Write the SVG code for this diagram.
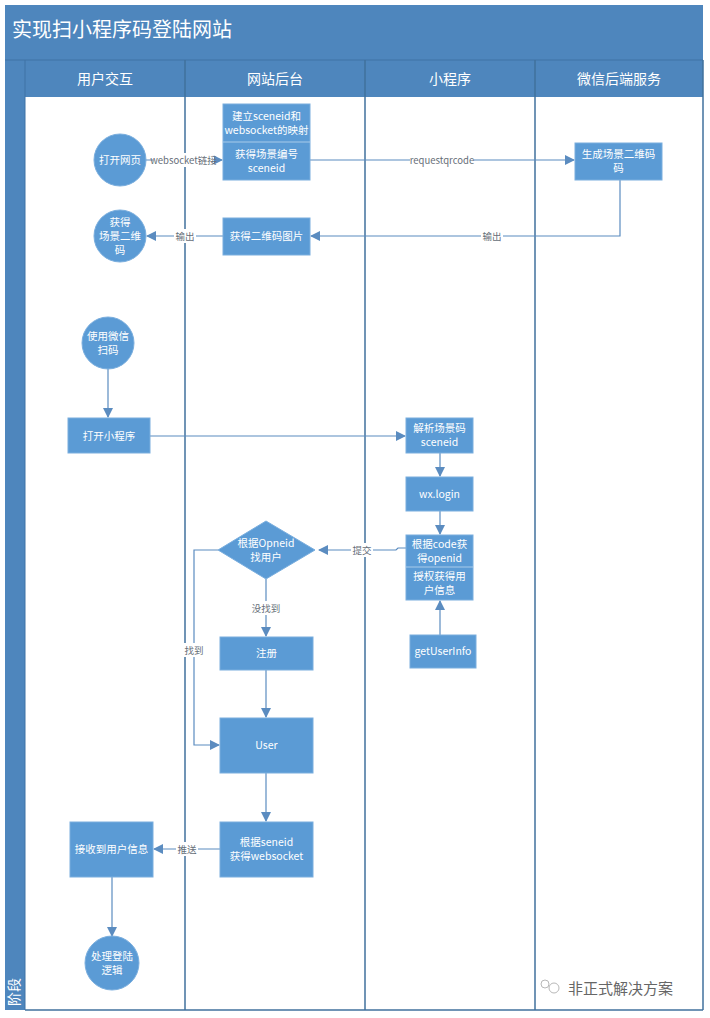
<svg xmlns="http://www.w3.org/2000/svg" width="710" height="1018" viewBox="0 0 710 1018">
<defs>
<marker id="arr" markerWidth="10" markerHeight="10" refX="9" refY="5" orient="auto" markerUnits="userSpaceOnUse">
<path d="M0,0 L10,5 L0,10 Z" fill="#5b8cc0"/>
</marker>
<style>
text{font-family:"Noto Sans CJK SC","Liberation Sans",sans-serif;}
.n{fill:#5b9bd5;stroke:#7aaede;stroke-width:1;}
.t{fill:#ffffff;font-size:10.5px;text-anchor:middle;}
.c{fill:none;stroke:#5b8cc0;stroke-width:1.2;}
.lb{fill:#666e78;font-size:9.5px;text-anchor:middle;}
.lbg{fill:#ffffff;}
.hd{fill:#ffffff;font-size:14px;text-anchor:middle;}
.ln{stroke:#41719c;stroke-width:1.5;}
</style>
</defs>
<rect width="710" height="1018" fill="#ffffff"/>
<g id="frame">
<rect x="5" y="5" width="698" height="1005" fill="#4e86bd"/>
<rect x="25" y="97" width="678" height="913" fill="#ffffff"/>
<line x1="5" y1="60" x2="703" y2="60" stroke="#3f72a5" stroke-width="1"/>
<line x1="25" y1="60" x2="25" y2="1010" stroke="#3f72a5" stroke-width="1"/>
<line class="ln" x1="185" y1="60" x2="185" y2="1010"/>
<line class="ln" x1="365" y1="60" x2="365" y2="1010"/>
<line class="ln" x1="535" y1="60" x2="535" y2="1010"/>
<line class="ln" x1="703" y1="60" x2="703" y2="1010"/>
<line class="ln" x1="25" y1="1010" x2="703" y2="1010"/>
<text x="12" y="37" fill="#ffffff" font-size="20">实现扫小程序码登陆网站</text>
<text class="hd" x="105" y="84">用户交互</text>
<text class="hd" x="275" y="84">网站后台</text>
<text class="hd" x="450" y="84">小程序</text>
<text class="hd" x="619" y="84">微信后端服务</text>
<text x="19" y="1006" fill="#ffffff" font-size="14" transform="rotate(-90 19 1006)">阶段</text>
</g>
<g id="connectors">
<line class="c" x1="146" y1="160" x2="222" y2="160" marker-end="url(#arr)"/>
<line class="c" x1="310" y1="160" x2="574" y2="160" marker-end="url(#arr)"/>
<polyline class="c" points="620,180 620,236 311,236" marker-end="url(#arr)"/>
<line class="c" x1="223" y1="236" x2="147" y2="236" marker-end="url(#arr)"/>
<line class="c" x1="108" y1="369" x2="108" y2="417" marker-end="url(#arr)"/>
<line class="c" x1="150" y1="436" x2="405" y2="436" marker-end="url(#arr)"/>
<line class="c" x1="440" y1="453" x2="440" y2="476" marker-end="url(#arr)"/>
<line class="c" x1="440" y1="511" x2="440" y2="534" marker-end="url(#arr)"/>
<polyline class="c" points="406,548 398,548 396,550 319,550" marker-end="url(#arr)"/>
<line class="c" x1="266" y1="579" x2="266" y2="636" marker-end="url(#arr)"/>
<polyline class="c" points="218,550 194,550 194,745 219,745" marker-end="url(#arr)"/>
<line class="c" x1="266" y1="670" x2="266" y2="717" marker-end="url(#arr)"/>
<line class="c" x1="266" y1="773" x2="266" y2="821" marker-end="url(#arr)"/>
<line class="c" x1="220" y1="849" x2="154" y2="849" marker-end="url(#arr)"/>
<line class="c" x1="112" y1="877" x2="112" y2="936" marker-end="url(#arr)"/>
<line class="c" x1="440" y1="635" x2="440" y2="601" marker-end="url(#arr)"/>
<rect class="lbg" x="153" y="153" width="61" height="14"/>
<text class="lb" x="183.5" y="163.5">websocket链接</text>
<rect class="lbg" x="410" y="153" width="64" height="14"/>
<text class="lb" x="442" y="163.5">requestqrcode</text>
<rect class="lbg" x="481" y="229" width="22" height="14"/>
<text class="lb" x="492" y="239.5">输出</text>
<rect class="lbg" x="174" y="229" width="22" height="14"/>
<text class="lb" x="185" y="239.5">输出</text>
<rect class="lbg" x="351" y="543" width="22" height="14"/>
<text class="lb" x="362" y="553.5">提交</text>
<rect class="lbg" x="250" y="601" width="32" height="14"/>
<text class="lb" x="266" y="611.5">没找到</text>
<rect class="lbg" x="183" y="643" width="22" height="14"/>
<text class="lb" x="194" y="653.5">找到</text>
<rect class="lbg" x="176" y="842" width="22" height="14"/>
<text class="lb" x="187" y="852.5">推送</text>
</g>
<g id="n-open-web">
<circle class="n" cx="120" cy="160" r="26"/>
<text class="t" x="120" y="164">打开网页</text>
</g>
<g id="n-map">
<rect class="n" x="223" y="104" width="87" height="76"/>
<line x1="223" y1="142" x2="310" y2="142" stroke="#a9cbea" stroke-width="1"/>
<text class="t" x="266.5" y="120" font-size="10px">建立sceneid和</text>
<text class="t" x="266.5" y="134" font-size="10px">websocket的映射</text>
<text class="t" x="266.5" y="158">获得场景编号</text>
<text class="t" x="266.5" y="172">sceneid</text>
</g>
<g id="n-gen-qr">
<rect class="n" x="575" y="143" width="87" height="37"/>
<text class="t" x="618.5" y="158">生成场景二维码</text>
<text class="t" x="618.5" y="172">码</text>
</g>
<g id="n-get-img">
<rect class="n" x="223" y="218" width="87" height="37"/>
<text class="t" x="266.5" y="240">获得二维码图片</text>
</g>
<g id="n-get-qr">
<circle class="n" cx="120" cy="236" r="26"/>
<text class="t" x="120" y="226">获得</text>
<text class="t" x="120" y="240">场景二维</text>
<text class="t" x="120" y="254">码</text>
</g>
<g id="n-scan">
<circle class="n" cx="108" cy="343" r="26"/>
<text class="t" x="108" y="340">使用微信</text>
<text class="t" x="108" y="354">扫码</text>
</g>
<g id="n-open-mini">
<rect class="n" x="68" y="418" width="82" height="35"/>
<text class="t" x="109" y="440">打开小程序</text>
</g>
<g id="n-parse">
<rect class="n" x="406" y="418" width="67" height="35"/>
<text class="t" x="439.5" y="432">解析场景码</text>
<text class="t" x="439.5" y="446">sceneid</text>
</g>
<g id="n-wxlogin">
<rect class="n" x="406" y="477" width="67" height="34"/>
<text class="t" x="439.5" y="498">wx.login</text>
</g>
<g id="n-openid">
<rect class="n" x="406" y="535" width="67" height="65"/>
<line x1="406" y1="567" x2="473" y2="567" stroke="#a9cbea" stroke-width="1"/>
<text class="t" x="439.5" y="548" font-size="10px">根据code获</text>
<text class="t" x="439.5" y="562" font-size="10px">得openid</text>
<text class="t" x="439.5" y="580">授权获得用</text>
<text class="t" x="439.5" y="594">户信息</text>
</g>
<g id="n-getuserinfo">
<rect class="n" x="410" y="635" width="66" height="33"/>
<text class="t" x="443" y="655">getUserInfo</text>
</g>
<g id="n-find">
<polygon class="n" points="266,521 315,550 266,579 218,550"/>
<text class="t" x="266" y="547">根据Opneid</text>
<text class="t" x="266" y="561">找用户</text>
</g>
<g id="n-register">
<rect class="n" x="220" y="637" width="93" height="33"/>
<text class="t" x="266.5" y="657">注册</text>
</g>
<g id="n-user">
<rect class="n" x="220" y="718" width="93" height="55"/>
<text class="t" x="266.5" y="749">User</text>
</g>
<g id="n-ws">
<rect class="n" x="220" y="822" width="93" height="55"/>
<text class="t" x="266.5" y="846">根据seneid</text>
<text class="t" x="266.5" y="860">获得websocket</text>
</g>
<g id="n-recv">
<rect class="n" x="70" y="822" width="83" height="55"/>
<text class="t" x="111.5" y="853">接收到用户信息</text>
</g>
<g id="n-login">
<circle class="n" cx="112" cy="963" r="27"/>
<text class="t" x="112" y="960">处理登陆</text>
<text class="t" x="112" y="974">逻辑</text>
</g>
<g id="watermark">
<circle cx="545" cy="984" r="4" fill="none" stroke="#b8b8b8" stroke-width="1"/>
<circle cx="554" cy="988" r="5" fill="none" stroke="#b8b8b8" stroke-width="1"/>
<text x="568" y="994" fill="#666666" font-size="15">非正式解决方案</text>
</g>
</svg>
